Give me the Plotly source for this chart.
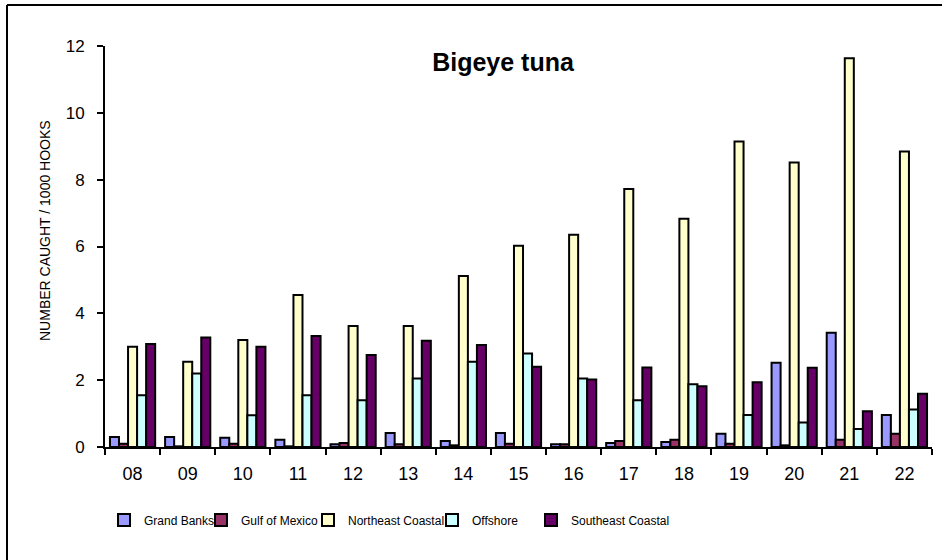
import plotly.graph_objects as go

years = ["08", "09", "10", "11", "12", "13", "14", "15", "16", "17", "18", "19", "20", "21", "22"]
grand_banks = [0.30, 0.30, 0.28, 0.22, 0.08, 0.42, 0.18, 0.42, 0.08, 0.12, 0.15, 0.40, 2.52, 3.42, 0.96]
gulf_of_mexico = [0.10, 0.02, 0.10, 0.02, 0.12, 0.08, 0.05, 0.10, 0.08, 0.18, 0.22, 0.10, 0.05, 0.22, 0.40]
northeast_coastal = [3.00, 2.55, 3.20, 4.55, 3.62, 3.62, 5.12, 6.02, 6.35, 7.72, 6.83, 9.14, 8.51, 11.63, 8.84]
offshore = [1.55, 2.20, 0.95, 1.55, 1.40, 2.05, 2.55, 2.80, 2.05, 1.40, 1.88, 0.96, 0.73, 0.54, 1.12]
southeast_coastal = [3.08, 3.28, 3.00, 3.32, 2.75, 3.18, 3.05, 2.40, 2.02, 2.38, 1.82, 1.94, 2.37, 1.07, 1.59]

series_names = ["Grand Banks", "Gulf of Mexico", "Northeast Coastal", "Offshore", "Southeast Coastal"]
series_values = [grand_banks, gulf_of_mexico, northeast_coastal, offshore, southeast_coastal]
colors = ["#9999FF", "#993366", "#FFFFCC", "#CCFFFF", "#660066"]

FONT = "Liberation Sans, Arial, sans-serif"

# plot area in pixels: x 105..932, y 46..447
W, H = 947, 560
L, R, T, B = 105, 15, 46, 113
pw = W - L - R
ph = H - T - B


def px_x(p):
    return (p - L) / pw


def px_y(p):
    return (H - B - p) / ph


legend_left_px = [104, 201, 308, 432, 531]
legend_ids = ["legend", "legend2", "legend3", "legend4", "legend5"]

fig = go.Figure()
for name, vals, col, lid in zip(series_names, series_values, colors, legend_ids):
    fig.add_trace(go.Bar(
        x=years, y=vals, name=name, legend=lid, showlegend=True,
        marker=dict(color=col, line=dict(color="black", width=2)),
    ))

layout_legends = {}
for lid, lx in zip(legend_ids, legend_left_px):
    layout_legends[lid] = dict(
        xref="container", yref="container", visible=True,
        x=lx / W, y=(H - 520) / H, xanchor="left", yanchor="middle",
        orientation="h", bgcolor="rgba(0,0,0,0)", borderwidth=0,
        font=dict(family=FONT, size=12, color="black"),
    )

fig.update_layout(
    width=W, height=H,
    showlegend=True,
    margin=dict(l=L, r=R, t=T, b=B),
    paper_bgcolor="white", plot_bgcolor="white",
    barmode="group", bargap=0.18, bargroupgap=0,
    font=dict(family=FONT, color="black"),
    title=dict(text="<b>Bigeye tuna</b>", x=px_x(503), xref="paper", xanchor="center",
               y=px_y(62), yref="paper", yanchor="middle",
               font=dict(family=FONT, size=25, color="black")),
    xaxis=dict(
        showline=True, linecolor="black", linewidth=2,
        ticks="outside", tickson="boundaries", ticklen=6, tickwidth=2, tickcolor="black",
        tickfont=dict(family=FONT, size=18, color="black"),
        ticklabelstandoff=9,
        showgrid=False, zeroline=False,
    ),
    yaxis=dict(
        range=[0, 12], dtick=2, showline=True, linecolor="black", linewidth=2,
        ticks="outside", ticklen=6, tickwidth=2, tickcolor="black",
        tickfont=dict(family=FONT, size=17, color="black"),
        ticklabelstandoff=9,
        showgrid=False, zeroline=False,
    ),
    annotations=[
        dict(text="NUMBER CAUGHT / 1000 HOOKS", textangle=-90, showarrow=False,
             xref="paper", yref="paper", x=px_x(45), y=px_y(231),
             xanchor="center", yanchor="middle",
             font=dict(family=FONT, size=14, color="black")),
    ],
    shapes=[
        dict(type="line", xref="paper", yref="paper", x0=px_x(7), x1=px_x(942), y0=px_y(5), y1=px_y(5),
             line=dict(color="black", width=2)),
        dict(type="line", xref="paper", yref="paper", x0=px_x(7), x1=px_x(7), y0=px_y(5), y1=px_y(570),
             line=dict(color="black", width=2)),
    ],
    **layout_legends,
)

fig.write_html(
    "out.html",
    config={"displayModeBar": False},
    post_script="document.body.style.margin='0';document.body.style.padding='0';",
)
